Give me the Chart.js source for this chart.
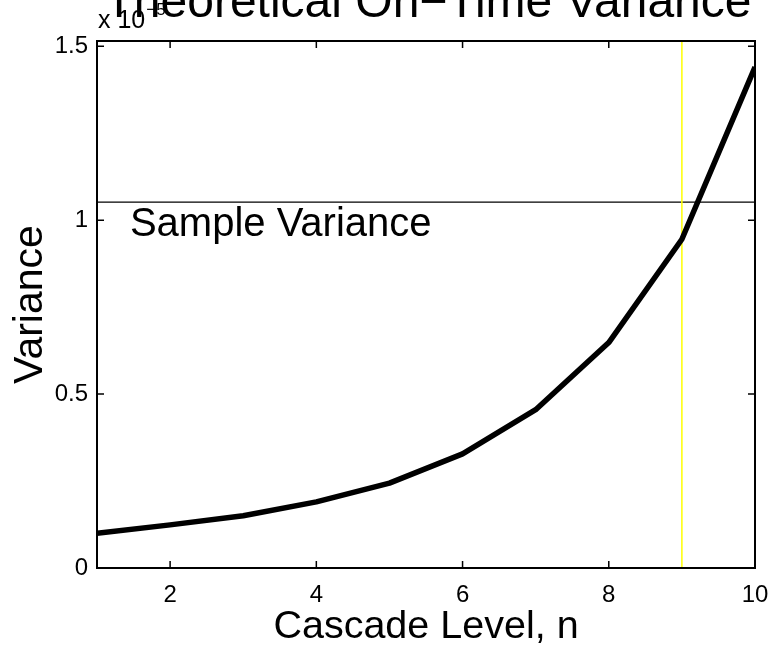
<!DOCTYPE html>
<html>
<head>
<meta charset="utf-8">
<script src="https://cdn.jsdelivr.net/npm/chart.js@4"></script>
<style>
html,body{margin:0;padding:0;background:#fff;}
#wrap{width:775px;height:649px;}
</style>
</head>
<body>
<div id="wrap"><canvas id="c" width="775" height="649"></canvas></div>
<script>
// ---- data ----
const levels = [1, 2, 3, 4, 5, 6, 7, 8, 9, 10];
const variance = [0.100, 0.124, 0.150, 0.190, 0.244, 0.328, 0.455, 0.648, 0.945, 1.440];
const sampleVariance = 1.052;
const chosenLevel = 9;
const xTicks = [2, 4, 6, 8, 10];
const yTicks = [0, 0.5, 1, 1.5];
const titleText = 'Theoretical On\u2212Time Variance';
const xLabel = 'Cascade Level, n';
const yLabel = 'Variance';
const exponentBase = 'x 10';
const exponentPower = '\u22125';
const sampleLabel = 'Sample Variance';

const FONT = '"Liberation Sans", Arial, Helvetica, sans-serif';
const xMin = 1, xMax = 10, yMin = 0, yMax = 1.515;

const curve = levels.map((n, i) => ({x: n, y: variance[i]}));

const decor = {
  id: 'decor',
  afterDatasetsDraw(chart) {
    const {ctx, chartArea: a, scales: {x, y}} = chart;
    ctx.save();
    // box
    ctx.strokeStyle = '#000';
    ctx.lineWidth = 2;
    ctx.strokeRect(a.left, a.top, a.right - a.left, a.bottom - a.top);
    // inward ticks
    ctx.lineWidth = 1.5;
    const tl = 7;
    ctx.beginPath();
    xTicks.forEach(v => {
      const px = x.getPixelForValue(v);
      ctx.moveTo(px, a.bottom); ctx.lineTo(px, a.bottom - tl);
      ctx.moveTo(px, a.top); ctx.lineTo(px, a.top + tl);
    });
    yTicks.forEach(v => {
      const py = y.getPixelForValue(v);
      ctx.moveTo(a.left, py); ctx.lineTo(a.left + tl, py);
      ctx.moveTo(a.right, py); ctx.lineTo(a.right - tl, py);
    });
    ctx.stroke();
    // sample variance label
    ctx.fillStyle = '#000';
    ctx.font = '40px ' + FONT;
    ctx.textAlign = 'left';
    ctx.textBaseline = 'middle';
    ctx.fillText(sampleLabel, x.getPixelForValue(1.45), y.getPixelForValue(0.985));
    // exponent
    ctx.font = '25px ' + FONT;
    ctx.textBaseline = 'alphabetic';
    ctx.fillText(exponentBase, a.left + 1, 28);
    const w = ctx.measureText(exponentBase).width;
    ctx.font = '17px ' + FONT;
    ctx.fillText(exponentPower, a.left + 1 + w + 1, 15);
    // title
    ctx.font = '48px ' + FONT;
    ctx.textAlign = 'center';
    ctx.fillText(titleText, (a.left + a.right) / 2 + 2, 17);
    // x label
    ctx.font = '39.5px ' + FONT;
    ctx.fillText(xLabel, (a.left + a.right) / 2, 638);
    // y label
    ctx.font = '41px ' + FONT;
    ctx.translate(42, (a.top + a.bottom) / 2);
    ctx.rotate(-Math.PI / 2);
    ctx.fillText(yLabel, 0, 0);
    ctx.restore();
  }
};

new Chart(document.getElementById('c'), {
  type: 'scatter',
  data: {
    datasets: [
      {data: [{x: xMin, y: sampleVariance}, {x: xMax, y: sampleVariance}], showLine: true,
       borderColor: '#000', borderWidth: 1.3, pointRadius: 0, order: 3},
      {data: [{x: chosenLevel, y: yMin}, {x: chosenLevel, y: yMax}], showLine: true,
       borderColor: '#ffff00', borderWidth: 1.5, pointRadius: 0, order: 2},
      {data: curve, showLine: true, borderColor: '#000', borderWidth: 5.5,
       pointRadius: 0, tension: 0, borderJoinStyle: 'round', order: 1}
    ]
  },
  options: {
    responsive: false,
    animation: false,
    events: [],
    layout: {padding: {top: 41, right: 20, left: 0, bottom: 0}},
    plugins: {legend: {display: false}, tooltip: {enabled: false}, title: {display: false}},
    scales: {
      x: {
        type: 'linear', min: xMin, max: xMax,
        afterBuildTicks: s => { s.ticks = xTicks.map(v => ({value: v})); },
        afterFit: s => { s.height = 81; s.paddingRight = 0; s.paddingLeft = 0; },
        grid: {display: false, drawTicks: false},
        border: {display: false},
        ticks: {color: '#000', font: {family: FONT, size: 24}, padding: 13, maxRotation: 0, autoSkip: false}
      },
      y: {
        type: 'linear', min: yMin, max: yMax,
        afterBuildTicks: s => { s.ticks = yTicks.map(v => ({value: v})); },
        afterFit: s => { s.width = 97; s.paddingTop = 0; s.paddingBottom = 0; },
        grid: {display: false, drawTicks: false},
        border: {display: false},
        ticks: {color: '#000', font: {family: FONT, size: 24}, padding: 9, autoSkip: false,
                callback: v => String(v)}
      }
    }
  },
  plugins: [decor]
});
</script>
</body>
</html>
